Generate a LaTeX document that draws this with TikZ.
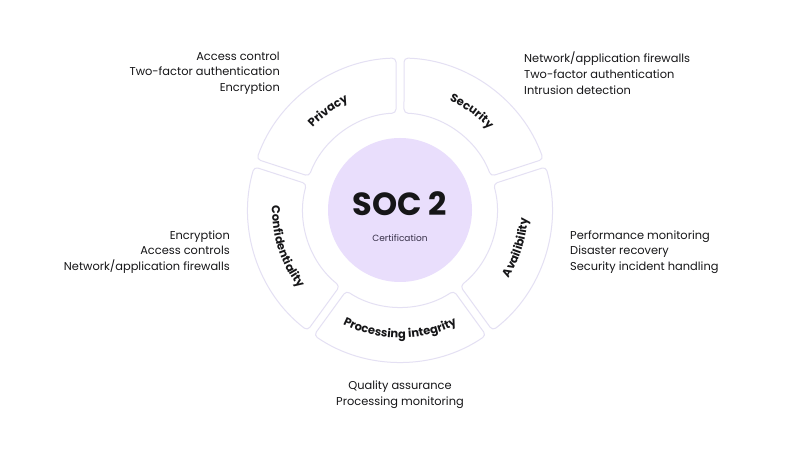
\documentclass[tikz,border=0pt]{standalone}
\usepackage{fontspec}
\setmainfont{Poppins}
\usetikzlibrary{calc,decorations.text}
\definecolor{ringline}{RGB}{228,224,243}
\definecolor{socfill}{RGB}{233,222,252}
\definecolor{ink}{RGB}{22,22,24}
\definecolor{subink}{RGB}{55,48,72}
\newcommand{\lblfont}{\fontsize{11.5}{13}\selectfont\bfseries}
\begin{document}
\begin{tikzpicture}[x=1pt,y=1pt,
    seg/.style={draw=ringline,line width=1pt,fill=white,rounded corners=4pt},
    lst/.style={font=\fontsize{11.4}{15.7}\selectfont,text=ink,inner sep=0pt},
    arclbl/.style={decorate,decoration={text along path,text align=center,text color=ink}}]
    \useasboundingbox[fill=white] (0,0) rectangle (800,450);
    \coordinate (C) at (400,240);
    % ring segments, gaps at -54,18,90,162,234
    \foreach \g in {-54,18,90,162,234} {
        \draw[seg] ($(C)+({\g+1.51}:152)$)
            arc[start angle={\g+1.51}, end angle={\g+70.49}, radius=152]
            -- ($(C)+({\g+69.64}:97)$)
            arc[start angle={\g+69.64}, end angle={\g+2.36}, radius=97] -- cycle;
    }
    % centre
    \node[circle,fill=socfill,minimum size=144pt,inner sep=0pt] (soc) at (C) {};
    \node[font=\fontsize{32}{34}\selectfont\bfseries,text=ink] (title) at (400,246) {SOC 2};
    \node[font=\fontsize{9}{10}\selectfont,text=subink] (cert) at (400,212) {Certification};
    % curved labels
    \path[arclbl,decoration={text={|\lblfont|Privacy}}]
        ($(C)+(160:120)$) arc[start angle=160, end angle=92, radius=120];
    \path[arclbl,decoration={text={|\lblfont|Security}}]
        ($(C)+(88:120)$) arc[start angle=88, end angle=20, radius=120];
    \path[arclbl,decoration={text={|\lblfont|{Av}ailibility}}]
        ($(C)+(-52:128)$) arc[start angle=-52, end angle=16, radius=128];
    \path[arclbl,decoration={text={|\lblfont|Processing integrity}}]
        ($(C)+(-126:128)$) arc[start angle=-126, end angle=-54, radius=128];
    \path[arclbl,decoration={text={|\lblfont|Confidentiality}}]
        ($(C)+(162:128)$) arc[start angle=162, end angle=234, radius=128];
    % lists
    \node[lst,anchor=east,align=right] (privacy) at (280,377)
        {Access control\\Two-factor authentication\\Encryption};
    \node[lst,anchor=west,align=left] (security) at (524,377)
        {Network/application firewalls\\Two-factor authentication\\Intrusion detection};
    \node[lst,anchor=east,align=right] (confid) at (230,198)
        {Encryption\\Access controls\\Network/application firewalls};
    \node[lst,anchor=west,align=left] (avail) at (570,198)
        {Performance monitoring\\Disaster recovery\\Security incident handling};
    \node[lst,align=center] (proc) at (400,55)
        {Quality assurance\\Processing monitoring};
\end{tikzpicture}
\end{document}
